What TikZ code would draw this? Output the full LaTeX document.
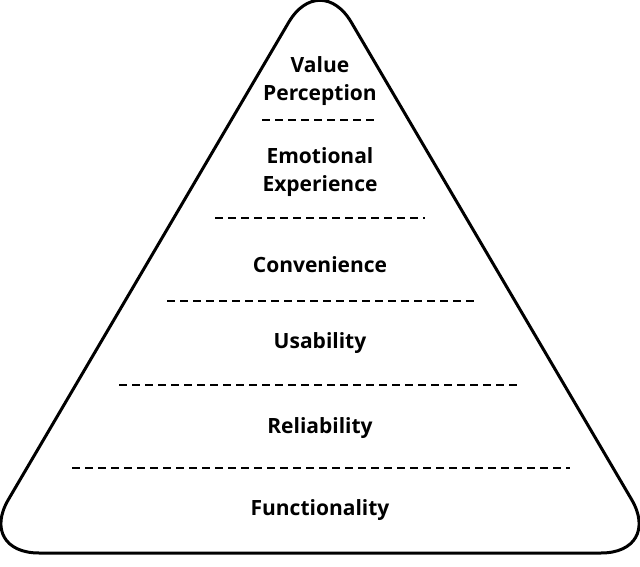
\documentclass[tikz,border=0pt]{standalone}
\usepackage{fontspec}
\setmainfont{Open Sans}
\usepackage{tikz}

\begin{document}
\begin{tikzpicture}[x=1pt, y=1pt]
  \def\pw{640} \def\ph{566}
  \tikzset{level/.style={font=\fontsize{21}{28}\selectfont\bfseries, align=center, inner sep=0pt}}
  \useasboundingbox (0,0) rectangle (\pw,\ph);
  % pyramid outline
  \draw[black, line width=3pt, rounded corners=62pt]
    (320,13) -- (663,13) -- (320,597) -- (-23,13) -- cycle;
  % separators between the levels
  \foreach \y/\a/\b in {446/262/378, 348/215/425, 265/167/474, 181/119/521, 98/72/570} {
    \draw[black, line width=2.8pt, dash pattern=on 8pt off 5pt] (\a,\y) -- (\b,\y);
  }
  \node[level] (value) at (320,485) {Value\\Perception};
  \node[level] (emotion) at (320,394) {Emotional\\Experience};
  \node[level] (convenience) at (320,301) {Convenience};
  \node[level] (usability) at (320,223) {Usability};
  \node[level] (reliability) at (320,138) {Reliability};
  \node[level] (function) at (320,56) {Functionality};
\end{tikzpicture}
\end{document}
